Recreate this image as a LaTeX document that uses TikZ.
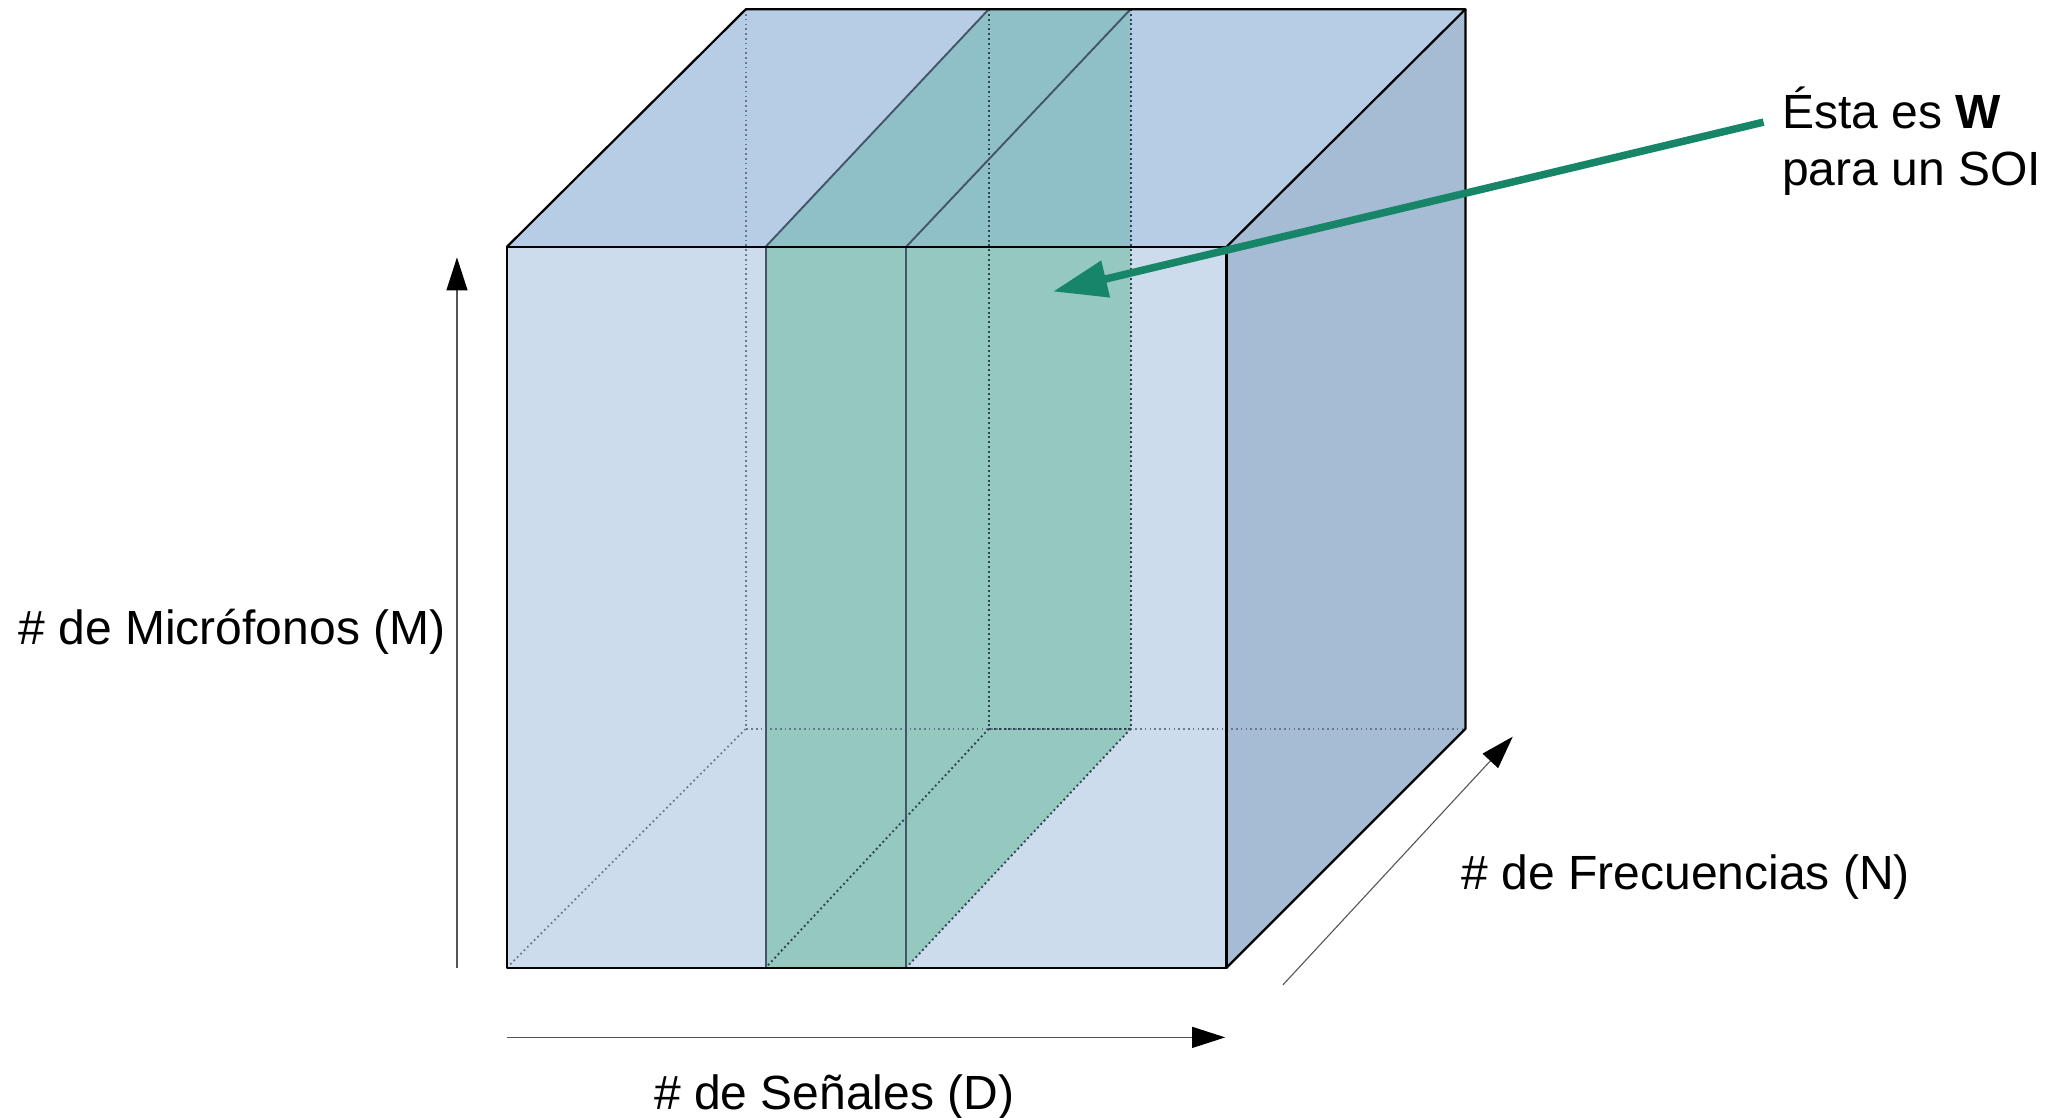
\documentclass[tikz,border=0pt]{standalone}
\usepackage{fontspec}
\setmainfont{Liberation Sans}
\usetikzlibrary{arrows.meta}
\definecolor{frontc}{HTML}{CDDCEC}
\definecolor{topc}{HTML}{B7CDE6}
\definecolor{rightc}{HTML}{A6BBD4}
\definecolor{slabfront}{HTML}{95C9C0}
\definecolor{slabtop}{HTML}{8FC0C7}
\definecolor{slabline}{HTML}{44546A}
\definecolor{hiddenc}{HTML}{66798D}
\definecolor{slabdot}{HTML}{2E4450}
\definecolor{arrowgreen}{HTML}{178567}
\definecolor{axisc}{HTML}{555555}
\tikzset{
  cubeedge/.style={draw=black, line width=2.2pt, line join=round},
  hiddenedge/.style={draw=hiddenc, line width=1.7pt, dash pattern=on 1.7pt off 3.1pt},
  slabdotted/.style={draw=slabdot, line width=1.9pt, dash pattern=on 1.9pt off 2.9pt},
  slabsolid/.style={draw=slabline, line width=1.9pt},
  axisline/.style={draw=axisc, line width=1.1pt, -{Triangle[length=33pt,width=21pt,fill=black,color=black]}},
  lbl/.style={font=\fontsize{48}{56.5}\selectfont, inner sep=0pt, text=black},
  soiarrow/.style={draw=arrowgreen, line width=7.5pt, -{Triangle[length=54pt,width=36pt,fill=arrowgreen,color=arrowgreen]}}
}
\begin{document}
\begin{tikzpicture}[x=1.3131pt, y=-1.3131pt]
\useasboundingbox (0,0) rectangle (1568,851);
% cube corners
\coordinate (FTL) at (386,188);
\coordinate (FTR) at (934,188);
\coordinate (FBR) at (934,737);
\coordinate (FBL) at (386,737);
\coordinate (BTL) at (568,7);
\coordinate (BTR) at (1116,7);
\coordinate (BBR) at (1116,555);
\coordinate (BBL) at (568,555);
% slab corners
\coordinate (SA) at (583,188);
\coordinate (SB) at (690,188);
\coordinate (SC) at (583,737);
\coordinate (SD) at (690,737);
\coordinate (SE) at (753,7);
\coordinate (SF) at (861,7);
\coordinate (SG) at (753,555);
\coordinate (SH) at (861,555);
\coordinate (SI) at (861,188);
% faces
\fill[frontc] (FTL) -- (FTR) -- (FBR) -- (FBL) -- cycle;
\fill[topc] (FTL) -- (BTL) -- (BTR) -- (FTR) -- cycle;
\fill[rightc] (FTR) -- (BTR) -- (BBR) -- (FBR) -- cycle;
% slab fills
\fill[slabtop] (SA) -- (SE) -- (SF) -- (SI) -- cycle;
\fill[slabfront] (SA) -- (SI) -- (SH) -- (SD) -- (SC) -- cycle;
% hidden cube edges
\path[hiddenedge] (BTL) -- (BBL) -- (BBR);
\path[hiddenedge] (FBL) -- (BBL);
% hidden slab edges
\path[slabdotted] (SE) -- (SG) -- (SH) -- (SF);
\path[slabdotted] (SG) -- (SC);
\path[slabdotted] (SH) -- (SD);
% visible slab edges
\path[slabsolid] (SC) -- (SA) -- (SB) -- (SD);
\path[slabsolid] (SA) -- (SE);
\path[slabsolid] (SB) -- (SF);
% cube outline
\path[cubeedge] (FTL) -- (FTR) -- (FBR) -- (FBL) -- cycle;
\path[cubeedge] (FTL) -- (BTL) -- (BTR) -- (FTR);
\path[cubeedge] (BTR) -- (BBR) -- (FBR);
% axes
\coordinate (mStart) at (348,737);
\coordinate (mEnd) at (348,196);
\coordinate (dStart) at (386,790);
\coordinate (dEnd) at (933,790);
\coordinate (nStart) at (977,750);
\coordinate (nEnd) at (1152,561);
\path[axisline] (mStart) -- (mEnd);
\path[axisline] (dStart) -- (dEnd);
\path[axisline] (nStart) -- (nEnd);
% labels
\node[lbl, anchor=base west] (lblM) at (14,491) {\# de Micrófonos (M)};
\node[lbl, anchor=base west] (lblD) at (498,845) {\# de Señales (D)};
\node[lbl, anchor=base west] (lblN) at (1113,677) {\# de Frecuencias (N)};
\node[lbl, anchor=base west] (lblW1) at (1357,98) {Ésta es \textbf{W}};
\node[lbl, anchor=base west] (lblW2) at (1357,141) {para un SOI};
% SOI arrow
\coordinate (wStart) at (1343,93);
\coordinate (wTip) at (802,222);
\path[soiarrow] (wStart) -- (wTip);
\end{tikzpicture}
\end{document}
